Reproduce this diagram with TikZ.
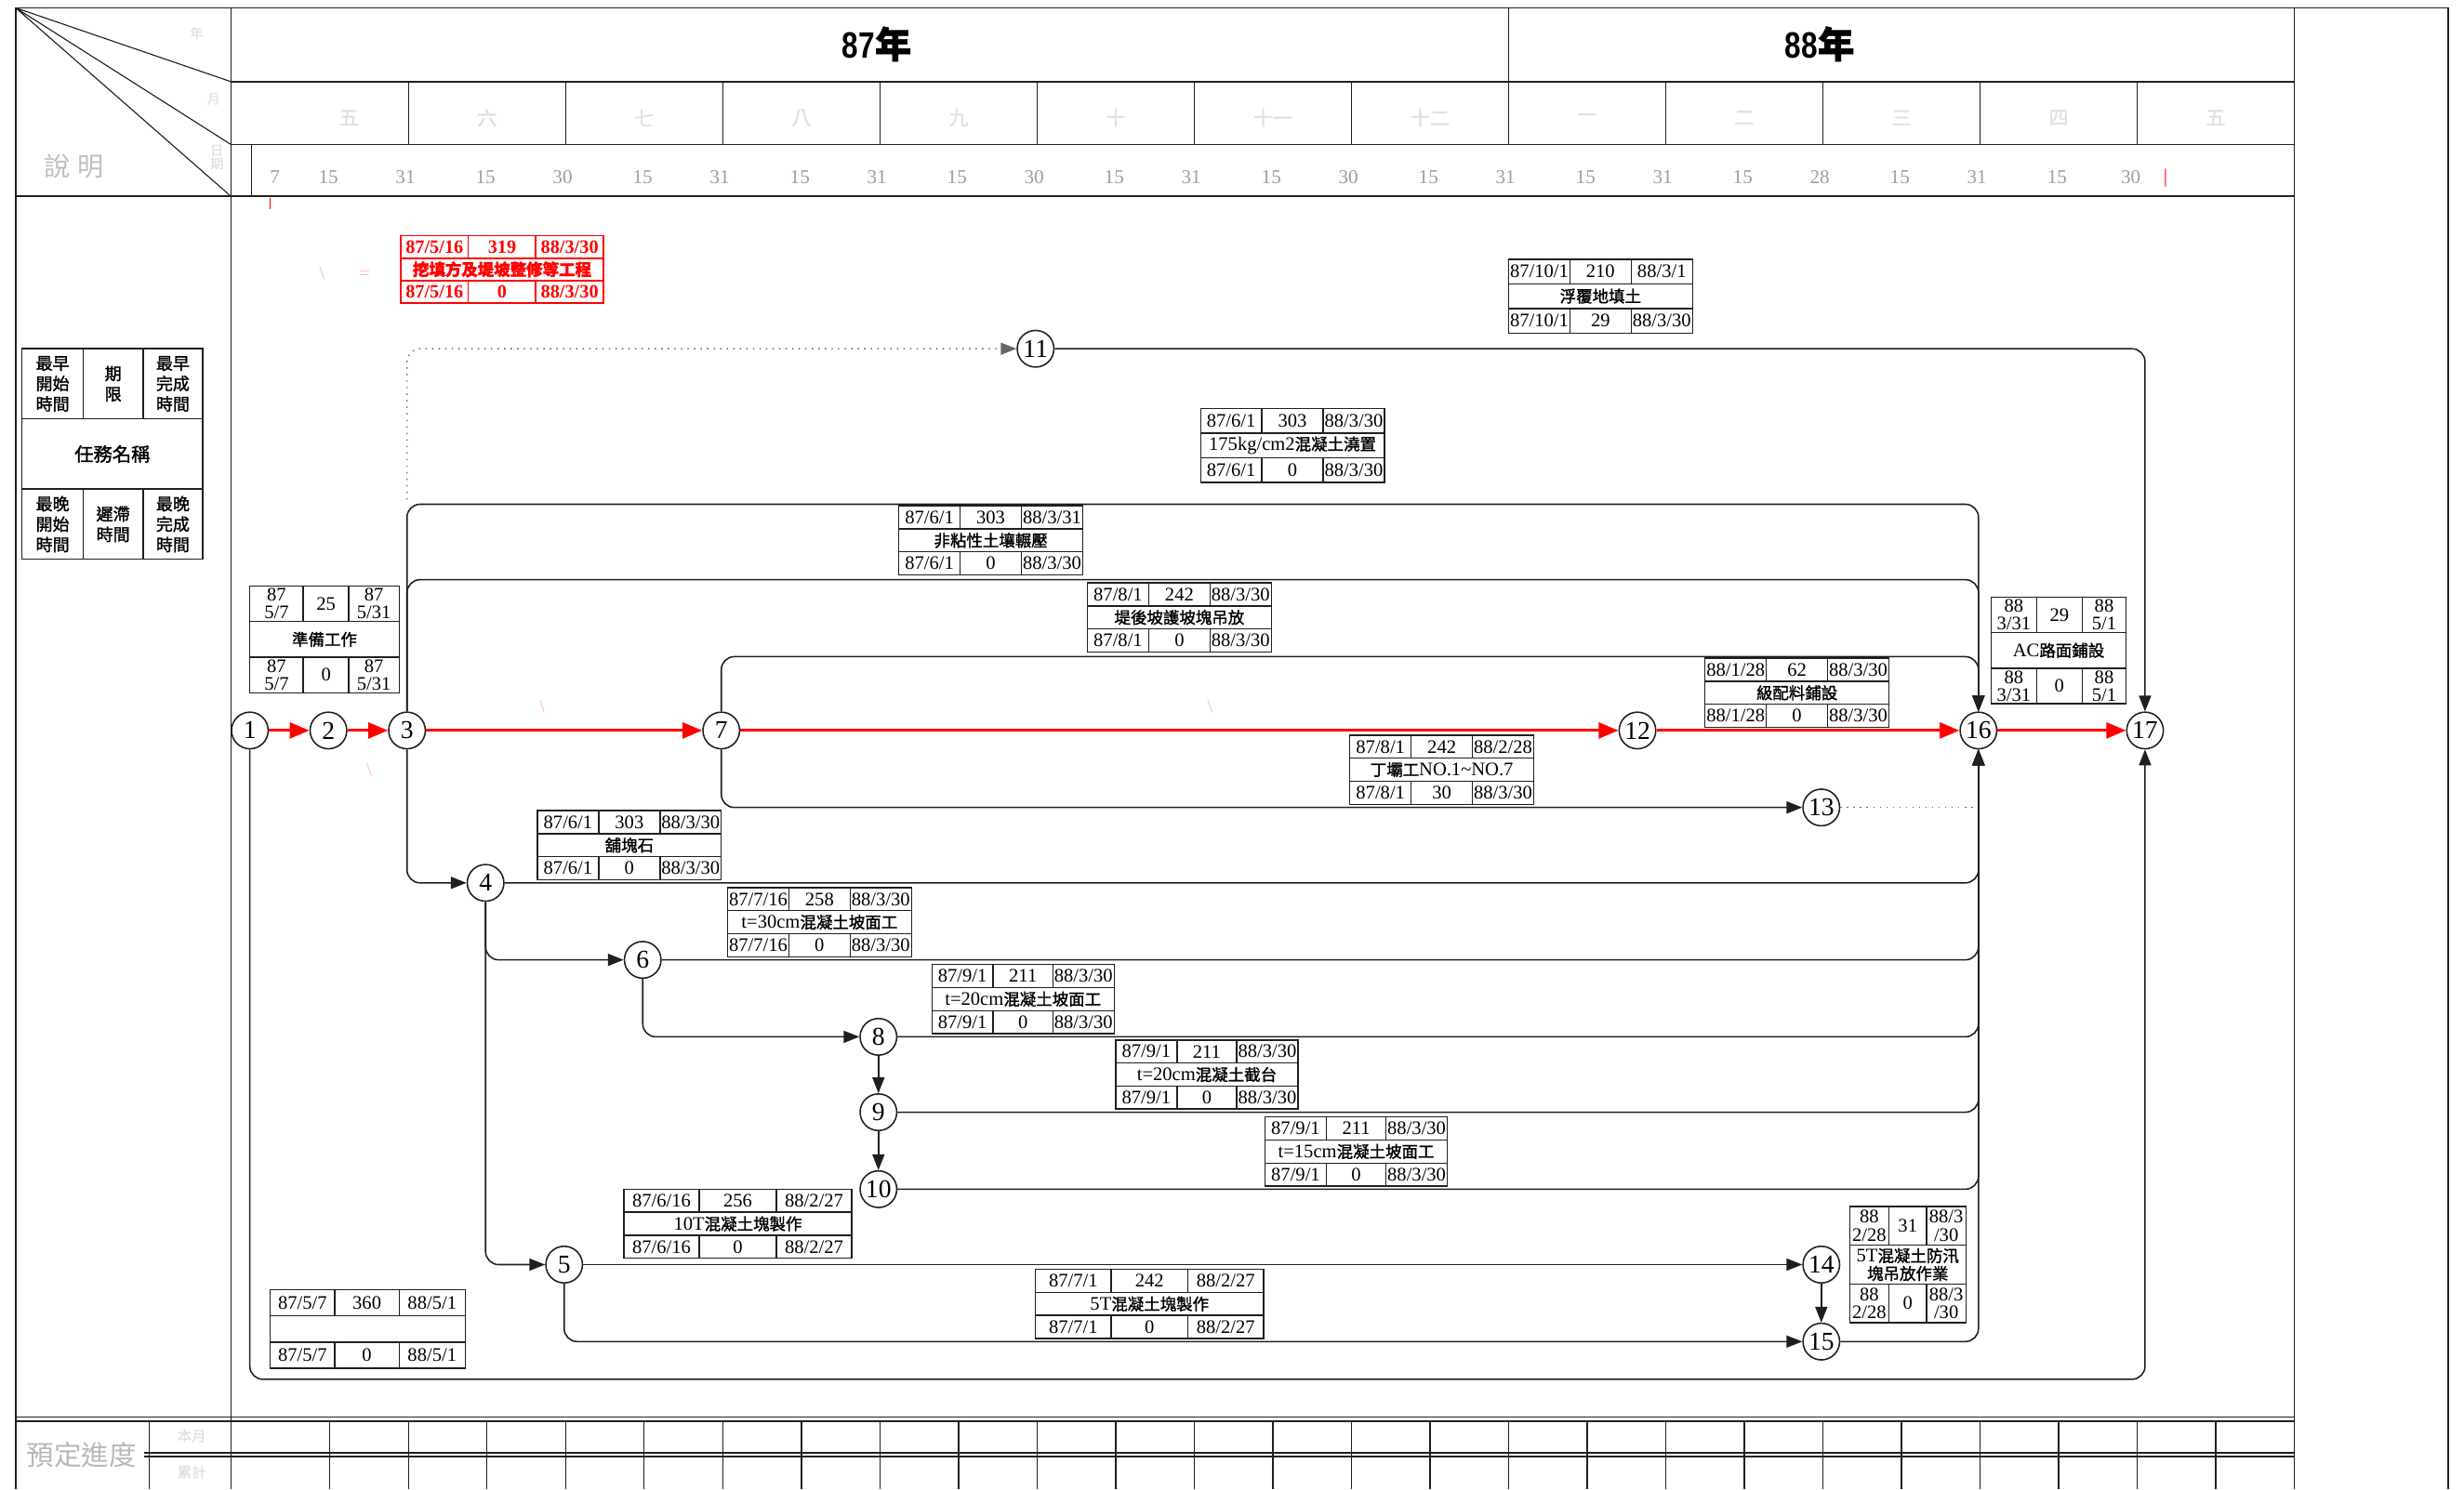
\documentclass[tikz,border=0pt]{standalone}
\usepackage{fontspec}
\setmainfont{Liberation Serif}
\newfontfamily\cjk{Noto Sans CJK TC}[FakeBold=1.5]
\newfontfamily\cjkl{Noto Sans CJK TC}
\newfontfamily\hdr{Liberation Sans}[FakeStretch=0.8]
\usetikzlibrary{arrows.meta}
\newcommand\C[1]{{\cjk\fontsize{6.2}{7.6}\selectfont #1}}
\newcommand\tgrid[7][tbl]{%
  \pgfmathsetmacro\tgya{#6+(#7-#6)/3}%
  \pgfmathsetmacro\tgyb{#6+2*(#7-#6)/3}%
  \pgfmathsetmacro\tgca{(#2+#3)/2}%
  \pgfmathsetmacro\tgcb{(#3+#4)/2}%
  \pgfmathsetmacro\tgcc{(#4+#5)/2}%
  \pgfmathsetmacro\tgcm{(#2+#5)/2}%
  \pgfmathsetmacro\tgra{(#6+\tgya)/2}%
  \pgfmathsetmacro\tgrm{(\tgya+\tgyb)/2}%
  \pgfmathsetmacro\tgrb{(\tgyb+#7)/2}%
  \draw[#1] (#2,#6) rectangle (#5,#7)
    (#2,\tgya) -- (#5,\tgya) (#2,\tgyb) -- (#5,\tgyb)
    (#3,#6) -- (#3,\tgya) (#4,#6) -- (#4,\tgya)
    (#3,\tgyb) -- (#3,#7) (#4,\tgyb) -- (#4,#7);
}
\newcommand\ttext[9][]{%
  \node[tn,#1] (#2a) at (\tgca,\tgra) {#3};
  \node[tn,#1] (#2b) at (\tgcb,\tgra) {#4};
  \node[tn,#1] (#2c) at (\tgcc,\tgra) {#5};
  \node[tn,#1] (#2m) at (\tgcm,\tgrm) {#6};
  \node[tn,#1] (#2d) at (\tgca,\tgrb) {#7};
  \node[tn,#1] (#2e) at (\tgcb,\tgrb) {#8};
  \node[tn,#1] (#2f) at (\tgcc,\tgrb) {#9};
}
\definecolor{faint}{gray}{0.88}
\definecolor{dayc}{gray}{0.62}
\definecolor{lnc}{gray}{0.12}
\tikzset{
  frm/.style={draw=lnc, line width=0.6pt},
  thn/.style={draw=lnc, line width=0.4pt},
  tbl/.style={draw=lnc, line width=0.5pt},
  tblr/.style={draw=red, line width=0.6pt},
  tn/.style={inner sep=0pt, align=center, font=\fontsize{7.3}{6.8}\selectfont},
  tnr/.style={text=red, font=\fontsize{7.2}{6.8}\selectfont\bfseries},
  tc/.style={inner sep=0pt, align=center, font=\cjk\fontsize{6.4}{7.8}\selectfont},
  ev/.style={circle, draw=lnc, fill=white, line width=0.55pt, minimum size=14pt, inner sep=0pt, font=\fontsize{9.8}{9.8}\selectfont},
  con/.style={draw=lnc, line width=0.55pt, rounded corners=5pt, -{Triangle[length=6pt,width=4.6pt]}},
  crit/.style={draw=red, line width=1.1pt, -{Triangle[length=7.5pt,width=6pt]}},
  dotl/.style={draw=black!60, line width=0.5pt, dotted, rounded corners=5pt},
  dayl/.style={inner sep=0pt, text=dayc, font=\fontsize{7.5}{7.5}\selectfont},
  monl/.style={inner sep=0pt, text=faint, font=\cjk\fontsize{7.5}{7.5}\selectfont},
  fnt/.style={inner sep=0pt, text=red!30, font=\fontsize{7}{7}\selectfont},
}
\begin{document}
\begin{tikzpicture}[x=0.6pt,y=-0.6pt]
\useasboundingbox (0,0) rectangle (1568,948);
% ---- frame ----
\draw[frm] (10,5) -- (1558,5);
\draw[frm] (10,5) -- (10,948);
\draw[frm] (1558,5) -- (1558,948);
\draw[frm] (147,5) -- (147,948);
\draw[frm] (1460,5) -- (1460,948);
\draw[frm] (147,52) -- (1460,52);
\draw[frm] (147,92) -- (1460,92);
\draw[frm] (10,125) -- (1460,125);
\draw[frm] (960,5) -- (960,92);
\foreach \x in {260,360,...,1360} \draw[thn] (\x,52) -- (\x,92);
\draw[thn] (160,92) -- (160,125);
\draw[thn] (10,5) -- (147,52) (10,5) -- (147,92) (10,5) -- (147,125);
% bottom band
\draw[frm] (10,902) -- (1460,902) (10,904.5) -- (1460,904.5);
\draw[frm] (92,925) -- (1460,925) (92,927) -- (1460,927);
\draw[thn] (95,904) -- (95,948);
\foreach \x in {210,260,...,1410} \draw[thn] (\x,904) -- (\x,948);
% ---- header texts ----
\node[inner sep=0pt, font=\hdr\bfseries\fontsize{14}{14}\selectfont] (y87) at (558,28) {87{\cjk 年}};
\node[inner sep=0pt, font=\hdr\bfseries\fontsize{14}{14}\selectfont] (y88) at (1158,28) {88{\cjk 年}};
\foreach \x/\t [count=\i] in {222/五,310/六,410/七,510/八,610/九,710/十,810/十一,910/十二,1010/一,1110/二,1210/三,1310/四,1410/五}
  \node[monl] (mon\i) at (\x,75) {\t};
\foreach \x/\t [count=\i] in {175/7,209/15,258/31,309/15,358/30,409/15,458/31,509/15,558/31,609/15,658/30,709/15,758/31,809/15,858/30,909/15,958/31,1009/15,1058/31,1109/15,1158/28,1209/15,1258/31,1309/15,1356/30}
  \node[dayl] (day\i) at (\x,113) {\t};
\node[inner sep=0pt, text=red, font=\fontsize{7.5}{7.5}\selectfont] (rtick) at (1378,113) {|};
\draw[red, line width=0.5pt] (172,126) -- (172,133);
\node[inner sep=0pt, text=black!25, font=\cjkl\fontsize{10}{10}\selectfont] (shuo) at (47,106) {說\hspace{3pt}明};
\node[inner sep=0pt, text=faint, font=\cjk\fontsize{5}{5}\selectfont] (hy) at (125,21) {年};
\node[inner sep=0pt, text=faint, font=\cjk\fontsize{5}{5}\selectfont] (hm) at (136,63) {月};
\node[inner sep=0pt, text=faint, font=\cjk\fontsize{5}{5}\selectfont, align=center] (hd) at (138,100) {日\\期};
\node[inner sep=0pt, text=black!28, font=\cjkl\fontsize{10.5}{10.5}\selectfont] (yd) at (52,926) {預定進度};
\node[inner sep=0pt, text=faint, font=\cjk\fontsize{5.5}{5.5}\selectfont] (by) at (122,914) {本月};
\node[inner sep=0pt, text=faint, font=\cjk\fontsize{5.5}{5.5}\selectfont] (lj) at (122,937) {累計};
% faint red marks
\node[fnt] (fa) at (205,174) {\textbackslash};
\node[fnt] (fe) at (232,175) {=};
\node[fnt] (fb) at (345,450) {\textbackslash};
\node[fnt] (fc) at (770,450) {\textbackslash};
\node[fnt] (fd) at (235,490) {\textbackslash};
% ---- events ----
\node[ev] (n1) at (159,465) {1};
\node[ev] (n2) at (209,465) {2};
\node[ev] (n3) at (259,465) {3};
\node[ev] (n7) at (459,465) {7};
\node[ev] (n12) at (1042,465) {12};
\node[ev] (n16) at (1259,465) {16};
\node[ev] (n17) at (1365,465) {17};
\node[ev] (n11) at (659,222) {11};
\node[ev] (n13) at (1159,514) {13};
\node[ev] (n4) at (309,562) {4};
\node[ev] (n6) at (409,611) {6};
\node[ev] (n8) at (559,660) {8};
\node[ev] (n9) at (559,708) {9};
\node[ev] (n10) at (559,757) {10};
\node[ev] (n5) at (359,805) {5};
\node[ev] (n14) at (1159,805) {14};
\node[ev] (n15) at (1159,854) {15};
% ---- connectors ----
\draw[dotl, -{Triangle[length=6pt,width=4.6pt]}] (259,318) |- (n11);
\draw[con] (n11) -| (n17);
\draw[con] (n3) |- (1259,321) -- (n16);
\draw[con] (n3) |- (1259,369) -- (n16);
\draw[con] (n7) |- (1259,418) -- (n16);
\draw[con] (n7) |- (n13);
\draw[dotl] (n13) -- (1259,514);
\draw[con] (n3) |- (n4);
\draw[con] (n4) -| (n16);
\draw[con] (n4) |- (n6);
\draw[con] (n6) -| (n16);
\draw[con] (n6) |- (n8);
\draw[con] (n8) -| (n16);
\draw[con] (n8) -- (n9);
\draw[con] (n9) -| (n16);
\draw[con] (n9) -- (n10);
\draw[con] (n10) -| (n16);
\draw[con] (n4) |- (n5);
\draw[con] (n5) -- (n14);
\draw[con] (n5) |- (n15);
\draw[con] (n14) -- (n15);
\draw[con] (n15) -| (n16);
\draw[con] (n1) |- (1365,878) -- (n17);
\draw[crit] (n1) -- (n2);
\draw[crit] (n2) -- (n3);
\draw[crit] (n3) -- (n7);
\draw[crit] (n7) -- (n12);
\draw[crit] (n12) -- (n16);
\draw[crit] (n16) -- (n17);
% ---- task boxes ----
\tgrid[tblr]{255}{298}{341}{384}{150}{193}
\ttext[tnr]{bA}{87/5/16}{319}{88/3/30}{\C{挖填方及堤坡整修等工程}}{87/5/16}{0}{88/3/30}
\tgrid{14}{53}{91}{129}{222}{356}
\node[tc] (lg1) at (\tgca,\tgra) {最早\\開始\\時間};
\node[tc] (lg2) at (\tgcb,\tgra) {期\\限};
\node[tc] (lg3) at (\tgcc,\tgra) {最早\\完成\\時間};
\node[tc, font=\cjk\fontsize{7.2}{7.8}\selectfont] (lg4) at (\tgcm,\tgrm) {任務名稱};
\node[tc] (lg5) at (\tgca,\tgrb) {最晚\\開始\\時間};
\node[tc] (lg6) at (\tgcb,\tgrb) {遲滯\\時間};
\node[tc] (lg7) at (\tgcc,\tgrb) {最晚\\完成\\時間};
\tgrid{159}{193}{222}{254}{373}{441}
\ttext{bC}{87\\5/7}{25}{87\\5/31}{\C{準備工作}}{87\\5/7}{0}{87\\5/31}
\tgrid{960}{999}{1038}{1077}{165}{212}
\ttext{bD}{87/10/1}{210}{88/3/1}{\C{浮覆地填土}}{87/10/1}{29}{88/3/30}
\tgrid{764}{803}{842}{881}{260}{307}
\ttext{bE}{87/6/1}{303}{88/3/30}{175kg/cm2\C{混凝土澆置}}{87/6/1}{0}{88/3/30}
\tgrid{572}{611}{650}{689}{322}{366}
\ttext{bF}{87/6/1}{303}{88/3/31}{\C{非粘性土壤輾壓}}{87/6/1}{0}{88/3/30}
\tgrid{692}{731}{770}{809}{371}{415}
\ttext{bG}{87/8/1}{242}{88/3/30}{\C{堤後坡護坡塊吊放}}{87/8/1}{0}{88/3/30}
\tgrid{1085}{1124}{1163}{1202}{419}{463}
\ttext{bH}{88/1/28}{62}{88/3/30}{\C{級配料鋪設}}{88/1/28}{0}{88/3/30}
\tgrid{1267}{1296}{1325}{1353}{380}{448}
\ttext{bI}{88\\3/31}{29}{88\\5/1}{AC\C{路面鋪設}}{88\\3/31}{0}{88\\5/1}
\tgrid{859}{898}{937}{976}{468}{512}
\ttext{bJ}{87/8/1}{242}{88/2/28}{\C{丁壩工}NO.1\textasciitilde NO.7}{87/8/1}{30}{88/3/30}
\tgrid{342}{381}{420}{459}{516}{560}
\ttext{bK}{87/6/1}{303}{88/3/30}{\C{舖塊石}}{87/6/1}{0}{88/3/30}
\tgrid{463}{502}{541}{580}{565}{609}
\ttext{bL}{87/7/16}{258}{88/3/30}{t=30cm\C{混凝土坡面工}}{87/7/16}{0}{88/3/30}
\tgrid{593}{632}{670}{709}{614}{658}
\ttext{bM}{87/9/1}{211}{88/3/30}{t=20cm\C{混凝土坡面工}}{87/9/1}{0}{88/3/30}
\tgrid{710}{749}{787}{826}{662}{706}
\ttext{bN}{87/9/1}{211}{88/3/30}{t=20cm\C{混凝土截台}}{87/9/1}{0}{88/3/30}
\tgrid{805}{844}{882}{921}{711}{755}
\ttext{bO}{87/9/1}{211}{88/3/30}{t=15cm\C{混凝土坡面工}}{87/9/1}{0}{88/3/30}
\tgrid{397}{445}{494}{542}{757}{801}
\ttext{bP}{87/6/16}{256}{88/2/27}{10T\C{混凝土塊製作}}{87/6/16}{0}{88/2/27}
\tgrid{659}{707}{756}{804}{808}{852}
\ttext{bQ}{87/7/1}{242}{88/2/27}{5T\C{混凝土塊製作}}{87/7/1}{0}{88/2/27}
\tgrid{1177}{1202}{1226}{1251}{768}{842}
\ttext{bR}{88\\2/28}{31}{88/3\\/30}{5T\C{混凝土防汛}\\\C{塊吊放作業}}{88\\2/28}{0}{88/3\\/30}
\tgrid{172}{213}{254}{296}{821}{871}
\ttext{bS}{87/5/7}{360}{88/5/1}{}{87/5/7}{0}{88/5/1}
\end{tikzpicture}
\end{document}
